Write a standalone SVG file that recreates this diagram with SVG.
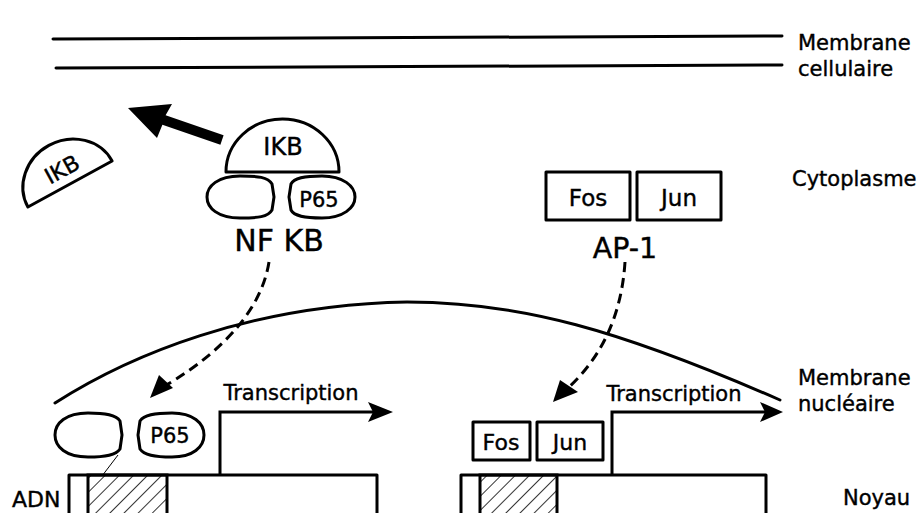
<svg xmlns="http://www.w3.org/2000/svg" width="922" height="513" viewBox="0 0 922 513">
<defs>
<style>
.ln{fill:none;stroke:#000;stroke-width:3;stroke-linecap:round}
.sh{fill:#fff;stroke:#000;stroke-width:3;stroke-linejoin:round}
.ds{fill:none;stroke:#000;stroke-width:3;stroke-dasharray:10 6}
.t{font-family:"DejaVu Sans","Liberation Sans",sans-serif;fill:#000;stroke:#000;stroke-width:0.4}
.hd{fill:#000;stroke:none}
</style>
<pattern id="hatch" patternUnits="userSpaceOnUse" width="10" height="10" patternTransform="rotate(45)">
<line x1="0" y1="0" x2="0" y2="10" stroke="#000" stroke-width="1.6"/>
</pattern>
</defs>
<rect width="922" height="513" fill="#fff"/>

<g id="membrane-cellulaire">
<line class="ln" x1="53" y1="39" x2="782" y2="36"/>
<line class="ln" x1="56" y1="68" x2="782" y2="65"/>
<text class="t" x="798" y="50" font-size="21">Membrane</text>
<text class="t" x="798" y="76" font-size="21">cellulaire</text>
</g>

<g id="label-cytoplasme"><text class="t" x="792" y="186" font-size="21">Cytoplasme</text></g>

<g id="membrane-nucleaire">
<path class="ln" d="M55,403 C130,355 250,305 407,302 C520,302 620,330 780,400"/>
<text class="t" x="798" y="385" font-size="21">Membrane</text>
<text class="t" x="798" y="411" font-size="21">nucléaire</text>
</g>

<g id="label-noyau"><text class="t" x="843" y="505" font-size="21">Noyau</text></g>
<g id="label-adn"><text class="t" x="12" y="507" font-size="22">ADN</text></g>

<g id="ikb-free" transform="translate(70,184) rotate(-28.7)">
<path class="sh" d="M-48,0 A48,44 0 0 1 48,0 Z"/>
<text class="t" x="0" y="-9" font-size="22" text-anchor="middle">IKB</text>
</g>

<g id="nfkb">
<path class="sh" d="M226,172 A56.5,53 0 0 1 339,172 Z"/>
<text class="t" x="283" y="155" font-size="24" text-anchor="middle">IKB</text>
<path class="sh" d="M240,176 C258,176 268,177 272,184 L274,197 L272,210 C268,217 258,218 240,218 C218,218 207,208 207,197 C207,186 218,176 240,176 Z"/>
<path class="sh" d="M322,176 C304,176 294,178 291,184 L289,197 L291,210 C294,216 304,218 322,218 C343,218 355,208 355,197 C355,186 343,176 322,176 Z"/>
<text class="t" x="319" y="207" font-size="21" text-anchor="middle">P65</text>
<text class="t" x="279" y="251" font-size="30" text-anchor="middle">NF KB</text>
</g>

<g id="ap1">
<rect class="sh" x="546" y="172" width="84" height="48"/>
<rect class="sh" x="637" y="172" width="84" height="48"/>
<text class="t" x="588" y="206" font-size="23" text-anchor="middle">Fos</text>
<text class="t" x="679" y="206" font-size="23" text-anchor="middle">Jun</text>
<text class="t" x="625" y="258" font-size="28.5" text-anchor="middle">AP-1</text>
</g>

<g id="connectors">
<polygon class="hd" points="128,108 172,104 165.6,115.3 223.6,135.3 220.4,144.7 162.4,124.7 157,138"/>
<path class="ds" d="M269,262 Q258,330 165,386"/>
<polygon class="hd" points="150,398 159,375 173,388"/>
<path class="ds" d="M625,262 Q620,340 568,388"/>
<polygon class="hd" points="553,402 560,380 578,392"/>
<path class="ln" d="M220,475 V412 H378"/>
<polygon class="hd" points="393,412 368,402 373,412 368,422"/>
<path class="ln" d="M612,475 V412 H768"/>
<polygon class="hd" points="783,412 760,402 765,412 760,422"/>
<line x1="118" y1="455" x2="102" y2="476" stroke="#000" stroke-width="1"/>
</g>

<g id="dna-left">
<rect class="sh" x="69" y="475" width="308" height="45"/>
<rect x="88" y="475" width="79" height="45" fill="url(#hatch)" stroke="#000" stroke-width="3"/>
<path class="sh" d="M88,413 C106,413 116,415 120,421 L122,435 L120,449 C116,455 106,457 88,457 C66,457 55,447 55,435 C55,423 66,413 88,413 Z"/>
<path class="sh" d="M172,413 C154,413 144,415 140,421 L138,435 L140,449 C144,455 154,457 172,457 C193,457 204,447 204,435 C204,423 193,413 172,413 Z"/>
<text class="t" x="170" y="443" font-size="21" text-anchor="middle">P65</text>
<text class="t" x="291" y="400" font-size="21" text-anchor="middle">Transcription</text>
</g>

<g id="dna-right">
<rect class="sh" x="461" y="475" width="305" height="45"/>
<rect x="480" y="475" width="77" height="45" fill="url(#hatch)" stroke="#000" stroke-width="3"/>
<rect class="sh" x="473" y="422" width="57" height="38"/>
<rect class="sh" x="537" y="422" width="66" height="38"/>
<text class="t" x="501" y="450" font-size="22" text-anchor="middle">Fos</text>
<text class="t" x="570" y="450" font-size="22" text-anchor="middle">Jun</text>
<text class="t" x="674" y="401" font-size="21" text-anchor="middle">Transcription</text>
</g>
</svg>
